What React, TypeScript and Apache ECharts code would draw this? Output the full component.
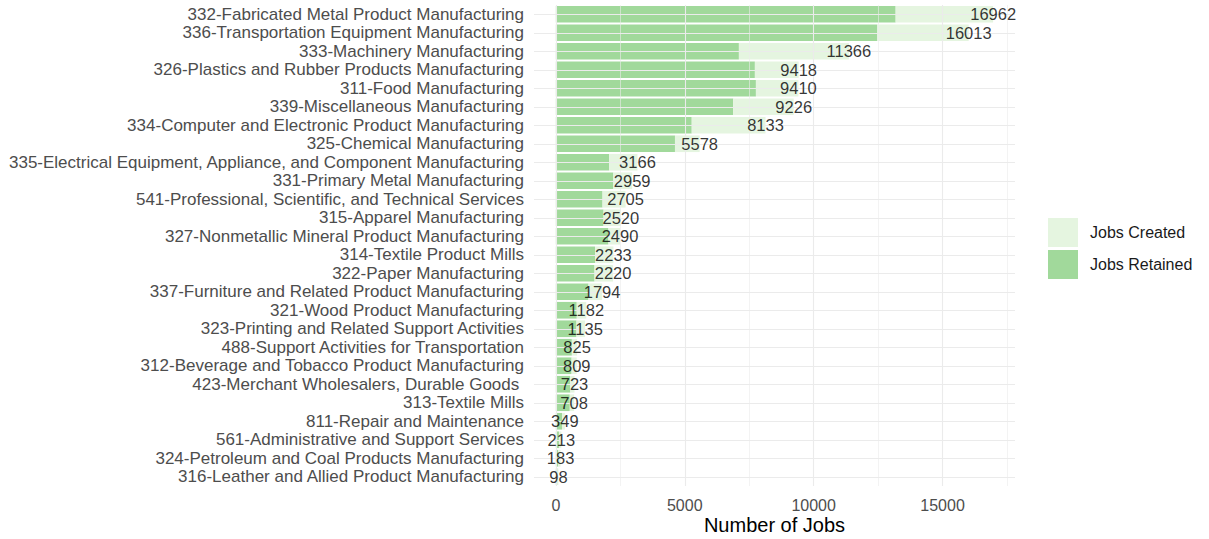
import React, { useEffect, useRef } from "react";
import * as echarts from "echarts";

const categories = [
  "332-Fabricated Metal Product Manufacturing",
  "336-Transportation Equipment Manufacturing",
  "333-Machinery Manufacturing",
  "326-Plastics and Rubber Products Manufacturing",
  "311-Food Manufacturing",
  "339-Miscellaneous Manufacturing",
  "334-Computer and Electronic Product Manufacturing",
  "325-Chemical Manufacturing",
  "335-Electrical Equipment, Appliance, and Component Manufacturing",
  "331-Primary Metal Manufacturing",
  "541-Professional, Scientific, and Technical Services",
  "315-Apparel Manufacturing",
  "327-Nonmetallic Mineral Product Manufacturing",
  "314-Textile Product Mills",
  "322-Paper Manufacturing",
  "337-Furniture and Related Product Manufacturing",
  "321-Wood Product Manufacturing",
  "323-Printing and Related Support Activities",
  "488-Support Activities for Transportation",
  "312-Beverage and Tobacco Product Manufacturing",
  "423-Merchant Wholesalers, Durable Goods ",
  "313-Textile Mills",
  "811-Repair and Maintenance",
  "561-Administrative and Support Services",
  "324-Petroleum and Coal Products Manufacturing",
  "316-Leather and Allied Product Manufacturing",
];

const jobsRetained = [
  13180, 12470, 7100, 7720, 7760, 6880, 5270, 4620, 2070, 2230, 1810, 1850, 2040,
  1520, 1500, 1265, 810, 800, 620, 610, 560, 540, 240, 120, 90, 60,
];

const jobsCreated = [
  3782, 3543, 4266, 1698, 1650, 2346, 2863, 958, 1096, 729, 895, 670, 450, 713,
  720, 529, 372, 335, 205, 199, 163, 168, 109, 93, 93, 38,
];

const totalLabels = [
  16962, 16013, 11366, 9418, 9410, 9226, 8133, 5578, 3166, 2959, 2705, 2520, 2490,
  2233, 2220, 1794, 1182, 1135, 825, 809, 723, 708, 349, 213, 183, 98,
];

const xTickLabels = [0, 5000, 10000, 15000];
const xMinorGrid = [2500, 7500, 12500, 17500];
const xRange = [-848, 17810];

export default function App() {
  const ref = useRef<HTMLDivElement>(null);

  useEffect(() => {
    if (!ref.current) return;
    const chart = echarts.init(ref.current, null, { renderer: "svg" });
    const font = "'Liberation Sans', Arial, sans-serif";
    const gridColor = "#ebebeb";

    chart.setOption({
      animation: false,
      textStyle: { fontFamily: font },
      grid: { left: 534, right: 194, top: 5, bottom: 53, outerBoundsMode: "none", containLabel: false },
      legend: {
        orient: "vertical",
        left: 1048,
        top: 218,
        padding: 0,
        itemWidth: 30,
        itemHeight: 29,
        itemGap: 3,
        icon: "rect",
        data: ["Jobs Created", "Jobs Retained"],
        textStyle: { fontSize: 16, color: "#1a1a1a", fontFamily: font, padding: [0, 0, 0, 7] },
        selectedMode: false,
      },
      xAxis: {
        type: "value",
        min: xRange[0],
        max: xRange[1],
        axisLine: { show: false },
        axisTick: { show: false },
        splitLine: { show: false },
        axisLabel: {
          customValues: xTickLabels,
          formatter: (v: number) => String(v),
          color: "#4d4d4d",
          fontSize: 16,
          margin: 11,
          fontFamily: font,
        },
        name: "Number of Jobs",
        nameLocation: "middle",
        nameGap: 29,
        nameMoveOverlap: false,
        nameTextStyle: { fontSize: 20, color: "#000", fontFamily: font },
      },
      yAxis: {
        type: "category",
        data: categories,
        inverse: true,
        axisLine: { show: false },
        axisTick: { show: false },
        splitLine: { show: false },
        axisLabel: {
          interval: 0,
          color: "#4d4d4d",
          fontSize: 17,
          margin: 10,
          fontFamily: font,
        },
      },
      series: [
        {
          type: "line",
          name: "grid",
          data: [],
          z: 0,
          silent: true,
          markLine: {
            silent: true,
            symbol: "none",
            label: { show: false },
            animation: false,
            data: [
              ...xTickLabels.map((v) => ({ xAxis: v, lineStyle: { color: gridColor, width: 1.1, type: "solid" } })),
              ...xMinorGrid.map((v) => ({ xAxis: v, lineStyle: { color: gridColor, width: 0.6, type: "solid" } })),
              ...categories.map((c) => ({ yAxis: c, lineStyle: { color: gridColor, width: 1.1, type: "solid" } })),
            ],
          },
        },
        {
          type: "bar",
          name: "Jobs Retained",
          stack: "jobs",
          data: jobsRetained,
          barWidth: "90%",
          itemStyle: { color: "#a1d99b" },
          z: 2,
        },
        {
          type: "bar",
          name: "Jobs Created",
          stack: "jobs",
          data: jobsCreated,
          barWidth: "90%",
          itemStyle: { color: "#e5f5e0" },
          z: 2,
        },
        {
          type: "scatter",
          name: "labels",
          data: totalLabels.map((v, i) => [v, categories[i]]),
          symbolSize: 1,
          itemStyle: { color: "rgba(0,0,0,0)" },
          z: 5,
          silent: true,
          label: {
            show: true,
            position: "inside",
            formatter: (p: any) => String(p.value[0]),
            color: "#000",
            fontSize: 16.5,
            fontFamily: font,
          },
        },
      ],
    });

    return () => chart.dispose();
  }, []);

  return (
    <div
      ref={ref}
      style={{ position: "fixed", left: 0, top: 0, width: 1209, height: 539, background: "#fff" }}
    />
  );
}
